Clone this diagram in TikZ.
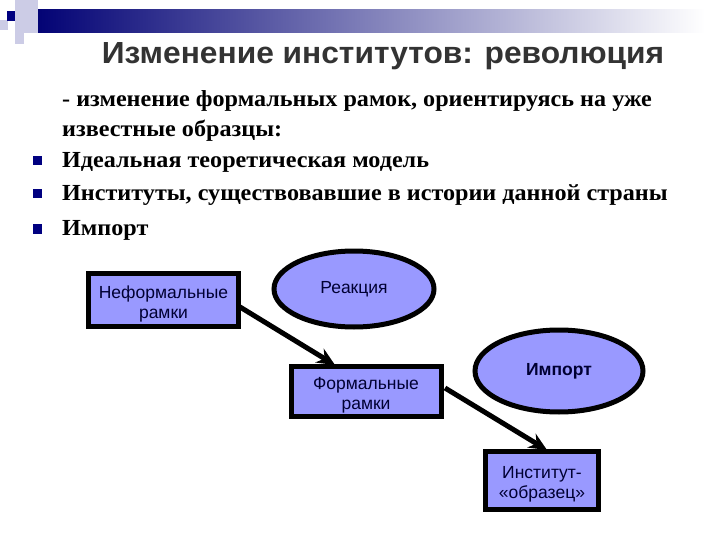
\documentclass[tikz,border=0pt]{standalone}
\usepackage{fontspec}
\setmainfont{Liberation Serif}
\newfontfamily\arialf{Liberation Sans}
\newfontfamily\bodyf[FakeStretch=1.05]{Liberation Serif}
\newfontfamily\titlef[FakeStretch=1.04]{Liberation Sans}
\usetikzlibrary{arrows.meta,shapes.geometric}
\definecolor{boxfill}{HTML}{9999FF}
\definecolor{navy}{HTML}{000080}
\definecolor{titlegray}{HTML}{333333}
\definecolor{nodetext}{HTML}{000033}
\definecolor{lightsq}{HTML}{CCCCE6}
\newcommand{\lowstrut}{\rule{0pt}{21pt}}
\tikzset{
  rectbox/.style={draw=black,line width=5pt,fill=boxfill,align=center,font=\arialf\fontsize{17.5}{20}\selectfont,text=nodetext,inner sep=2pt},
  ellbox/.style={ellipse,draw=black,line width=5pt,fill=boxfill,font=\arialf\fontsize{17.5}{20}\selectfont,text=nodetext,inner sep=0pt},
  conn/.style={line width=5pt,-{Stealth[length=18pt,width=16pt]}},
  bodytext/.style={anchor=base west,font=\bodyf\bfseries\fontsize{23}{26}\selectfont,inner sep=0pt},
  bulletsq/.style={fill=navy,minimum size=9pt,inner sep=0pt},
}
\begin{document}
\begin{tikzpicture}[x=1pt,y=-1pt]
\useasboundingbox (0,0) rectangle (720,540);
\fill[white] (0,0) rectangle (720,540);
% top decoration
\shade[left color=navy!90!black,right color=white] (30,10) rectangle (705,33);
\fill[lightsq] (15,0) rectangle (38,33);
\fill[lightsq] (15,33) rectangle (24,44);
\fill[lightsq] (0,20) rectangle (8,30);
\fill[navy] (7,11) rectangle (15,21);
% title
\node[font=\titlef\bfseries\fontsize{30.5}{34}\selectfont,text=titlegray] (title) at (383,56) {Изменение институтов: революция};
% body
\node[bodytext] (l1) at (62,107) {- изменение формальных рамок, ориентируясь на уже};
\node[bodytext] (l2) at (62,137) {известные образцы:};
\node[bodytext] (l3) at (62,168) {Идеальная теоретическая модель};
\node[bodytext] (l4) at (62,201) {Институты, существовавшие в истории данной страны};
\node[bodytext] (l5) at (62,236) {Импорт};
\node[bulletsq] (b1) at (37,161) {};
\node[bulletsq] (b2) at (37,194) {};
\node[bulletsq] (b3) at (37,229) {};
% diagram
\node[rectbox,minimum width=150pt,minimum height=53pt] (nef) at (163.5,300) {\lowstrut Неформальные\\рамки};
\node[ellbox,minimum width=160pt,minimum height=76pt] (reak) at (354,289) {Реакция};
\node[rectbox,minimum width=150pt,minimum height=50pt] (form) at (366,391) {\lowstrut Формальные\\рамки};
\node[ellbox,minimum width=168pt,minimum height=82pt,font=\arialf\bfseries\fontsize{17.5}{20}\selectfont] (imp) at (559,371) {Импорт};
\node[rectbox,minimum width=113pt,minimum height=58pt] (inst) at (542,480) {\lowstrut Институт-\\«образец»};
\coordinate (a1s) at (240,307);
\coordinate (a1e) at (335,365);
\coordinate (a2s) at (445,388);
\coordinate (a2e) at (547,450);
\draw[conn] (a1s) -- (a1e);
\draw[conn] (a2s) -- (a2e);
\end{tikzpicture}
\end{document}
